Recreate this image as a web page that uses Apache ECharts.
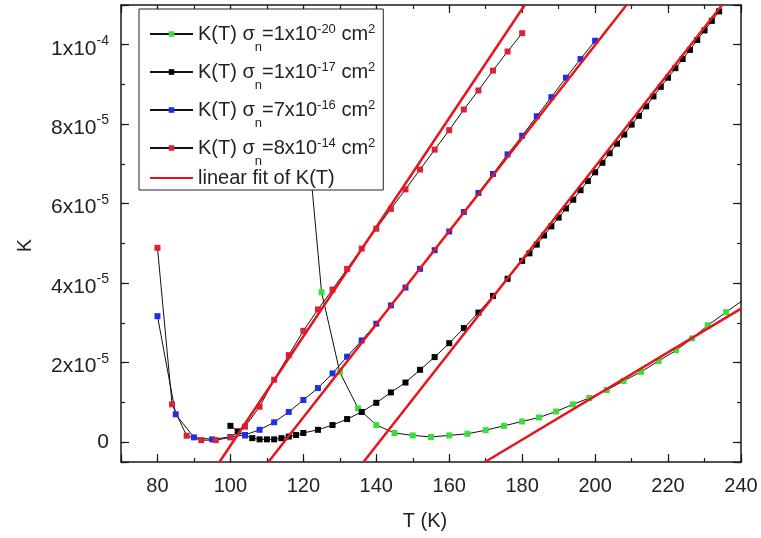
<!DOCTYPE html>
<html><head><meta charset="utf-8">
<script src="https://cdn.jsdelivr.net/npm/echarts@6/dist/echarts.min.js"></script>
<style>html,body{margin:0;padding:0;background:#fff}#c{width:761px;height:538px}</style>
</head><body><div id="c"></div>
<script>
// Values of K are in units of 1e-5
const greenT = [120,125,130,135,140,145,150,155,160,165,170,175,180,184.6,189.3,193.9,198.4,203.2,207.8,212.6,217.4,222.2,226.6,230.9,235.9,241];
const greenK = [8.8,3.77,1.76,0.85,0.43,0.23,0.17,0.13,0.17,0.21,0.30,0.41,0.52,0.62,0.77,0.95,1.11,1.31,1.54,1.77,2.04,2.31,2.61,2.94,3.27,3.60];

const blackT = [100,102,104,106,108,110,112,114,116,118,120,124,128,132,136,140,144,148,152,156,160,164,168,172,176,180,182,184,186,188,190,192,194,196,198,200,202,204,206,208,210,212,214,216,218,220,222,224,226,228,230,232,234];
const blackK = [0.41,0.27,0.17,0.10,0.07,0.07,0.07,0.10,0.14,0.18,0.23,0.31,0.43,0.58,0.76,0.99,1.25,1.50,1.82,2.14,2.49,2.87,3.26,3.68,4.11,4.56,4.75,4.97,5.20,5.43,5.65,5.88,6.10,6.34,6.57,6.79,7.03,7.27,7.51,7.74,7.99,8.21,8.45,8.70,8.94,9.17,9.41,9.64,9.87,10.12,10.36,10.60,10.84];

const blueT = [80,85,90,95,100,104,108,112,116,120,124,128,132,136,140,144,148,152,156,160,164,168,172,176,180,184,188,192,196,200];
const blueK = [3.17,0.70,0.12,0.07,0.13,0.18,0.31,0.50,0.76,1.06,1.36,1.73,2.15,2.56,2.98,3.44,3.89,4.36,4.83,5.30,5.79,6.27,6.75,7.24,7.71,8.20,8.68,9.17,9.64,10.10];

const redT = [80,84,88,92,96,100,104,108,112,116,120,124,128,132,136,140,144,148,152,156,160,164,168,172,176,180];
const redK = [4.89,0.95,0.16,0.05,0.05,0.12,0.39,0.89,1.57,2.19,2.80,3.34,3.84,4.36,4.87,5.37,5.87,6.36,6.86,7.36,7.85,8.37,8.85,9.35,9.83,10.29];

// linear fits: start/end points
const fitT = [[97,180.7],[110.4,208.6],[136.5,234.8],[169.8,240]];
const fitK = [[-0.5,11],[-0.5,11],[-0.5,11],[-0.5,3.36]];

const xTickValues = [80,100,120,140,160,180,200,220,240];
const xTickLabels = ['80','100','120','140','160','180','200','220','240'];
const yTickValues = [0,2,4,6,8,10];
const yTickLabels = ['0','{b|2x10}{s|-5}','{b|4x10}{s|-5}','{b|6x10}{s|-5}','{b|8x10}{s|-5}','{b|1x10}{s|-4}'];

const legendNames = ['g','k','b','r','fit'];
const legendLabels = {
  g: '{t|K(T) σ}{n|n}{t|=1x10}{s|-20}{t| cm}{s|2}',
  k: '{t|K(T) σ}{n|n}{t|=1x10}{s|-17}{t| cm}{s|2}',
  b: '{t|K(T) σ}{n|n}{t|=7x10}{s|-16}{t| cm}{s|2}',
  r: '{t|K(T) σ}{n|n}{t|=8x10}{s|-14}{t| cm}{s|2}',
  fit: '{f|linear fit of K(T)}'
};

const FONT = "'Liberation Sans', Arial, sans-serif";
const AX = '#1a1a1a';
const TXT = '#222';

function findLabel(vals, labels, v) {
  for (let i = 0; i < vals.length; i++) if (Math.abs(vals[i] - v) < 1e-6) return labels[i];
  return '';
}

function xAxisDef(pos, split, len, main) {
  return {
    type: 'value', position: pos, min: 70, max: 240, splitNumber: split,
    axisLine: {show: main, onZero: false, lineStyle: {color: AX, width: 1.5}},
    axisTick: {show: true, inside: true, length: len, lineStyle: {color: AX, width: 1.2}},
    splitLine: {show: false},
    axisLabel: {show: main && pos === 'bottom', margin: 14, fontSize: 20, color: TXT, fontFamily: FONT,
      formatter: v => findLabel(xTickValues, xTickLabels, v)},
    name: (main && pos === 'bottom') ? 'T (K)' : '',
    nameLocation: 'middle', nameGap: 49,
    nameTextStyle: {fontSize: 20, color: TXT, fontFamily: FONT, padding: [0, 12, 0, 0]}
  };
}
function yAxisDef(pos, split, len, main) {
  return {
    type: 'value', position: pos, min: -0.5, max: 11, splitNumber: split,
    axisLine: {show: main, onZero: false, lineStyle: {color: AX, width: 1.5}},
    axisTick: {show: true, inside: true, length: len, lineStyle: {color: AX, width: 1.2}},
    splitLine: {show: false},
    axisLabel: {show: main && pos === 'left', margin: 12, fontSize: 21, color: TXT, fontFamily: FONT,
      formatter: v => findLabel(yTickValues, yTickLabels, v),
      rich: {
        b: {fontSize: 21, lineHeight: 21, padding: [8,0,0,0], verticalAlign: 'middle', color: TXT, fontFamily: FONT},
        s: {fontSize: 14, lineHeight: 14, padding: [0,0,8,0], verticalAlign: 'middle', color: TXT, fontFamily: FONT}
      }},
    name: (main && pos === 'left') ? 'K' : '',
    nameLocation: 'middle', nameGap: 86,
    nameTextStyle: {fontSize: 20, color: TXT, fontFamily: FONT, padding: [0, 24, 0, 0]}
  };
}

function dataSeries(name, T, K, color) {
  return {
    name, type: 'line', data: T.map((t, i) => [t, K[i]]),
    symbol: 'rect', symbolSize: 6, showSymbol: true, clip: true,
    lineStyle: {color: '#111', width: 1}, itemStyle: {color},
    emphasis: {disabled: true}, z: 2
  };
}
const series = [
  dataSeries('g', greenT, greenK, '#3ddc3d'),
  dataSeries('k', blackT, blackK, '#000000'),
  dataSeries('b', blueT, blueK, '#1f2fe8'),
  dataSeries('r', redT, redK, '#d8243a')
];
fitT.forEach((ts, i) => {
  series.push({
    name: 'fit', type: 'line', data: ts.map((t, j) => [t, fitK[i][j]]),
    symbol: 'none', clip: true, lineStyle: {color: '#e8141c', width: 2.5},
    itemStyle: {color: '#e8141c'}, emphasis: {disabled: true}, z: 3
  });
});

const chart = echarts.init(document.getElementById('c'), null, {renderer: 'canvas'});
chart.setOption({
  animation: false,
  backgroundColor: '#fff',
  grid: {left: 121, right: 20, top: 5, bottom: 76, containLabel: false, outerBoundsMode: 'none'},
  xAxis: [xAxisDef('bottom', 8, 8, true), xAxisDef('bottom', 17, 4, false), xAxisDef('top', 8, 8, true), xAxisDef('top', 17, 4, false)],
  yAxis: [yAxisDef('left', 6, 8, true), yAxisDef('left', 11, 4, false), yAxisDef('right', 6, 8, true), yAxisDef('right', 11, 4, false)],
  legend: {
    show: true, left: 139, top: 9, orient: 'vertical', selectedMode: false,
    itemWidth: 43, itemHeight: 7, itemGap: -2, padding: [5, 8, 0, 10],
    backgroundColor: '#fff', borderColor: '#222', borderWidth: 1, borderRadius: 0,
    data: legendNames.map(n => n === 'fit' ? {name: n, itemStyle: {opacity: 0}} : n),
    formatter: n => legendLabels[n],
    textStyle: {fontFamily: FONT, fontSize: 20, color: TXT,
      rich: {
        t: {fontSize: 20, lineHeight: 20, padding: [0,0,0,0], verticalAlign: 'middle', color: TXT, fontFamily: FONT},
        s: {fontSize: 13, lineHeight: 13, padding: [0,0,10,0], verticalAlign: 'middle', color: TXT, fontFamily: FONT},
        n: {fontSize: 13, lineHeight: 13, padding: [27,0,0,0], verticalAlign: 'middle', color: TXT, fontFamily: FONT},
        f: {fontSize: 20, lineHeight: 20, padding: [2,0,2,0], verticalAlign: 'middle', color: TXT, fontFamily: FONT}
      }}
  },
  series
});
</script></body></html>
